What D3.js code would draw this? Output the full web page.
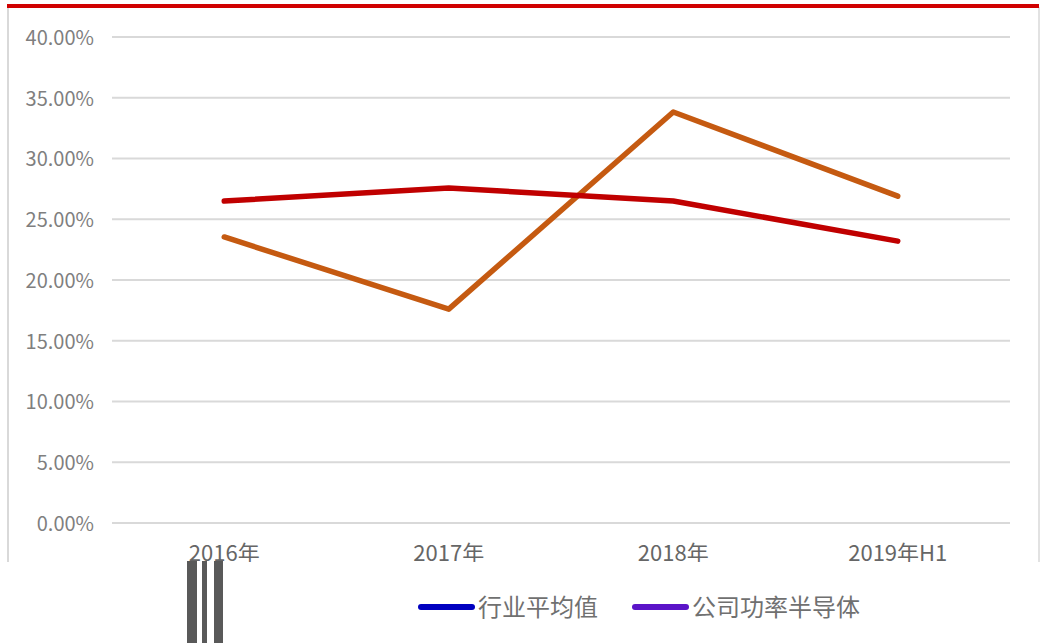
<!DOCTYPE html>
<html>
<head>
	<meta charset="utf-8">
	<script src="https://d3js.org/d3.v7.min.js"></script>
	<style>
		body { margin: 0; background: #fff; }
		text { font-family: "Noto Sans CJK SC", "Noto Sans", sans-serif; }
	</style>
</head>
<body>
<div id="chart"></div>
<script>
// 数据
var categories = ['2016年', '2017年', '2018年', '2019年H1'];
var industryAvg = [0.265, 0.2757, 0.265, 0.232];
var company = [0.2354, 0.176, 0.3383, 0.269];
var yTicks = [0, 0.05, 0.10, 0.15, 0.20, 0.25, 0.30, 0.35, 0.40];
var seriesNames = ['行业平均值', '公司功率半导体'];

var W = 1051, H = 643;
var svg = d3.select('#chart').append('svg')
	.attr('width', W).attr('height', H);

var x = d3.scaleBand().domain(categories).range([112, 1010]);
var y = d3.scaleLinear().domain([0, 0.40]).range([523, 37]);

// 上方区域裁剪（x轴标签被截断）
svg.append('clipPath').attr('id', 'panel')
	.append('rect').attr('x', 0).attr('y', 0).attr('width', W).attr('height', 562);

var panel = svg.append('g').attr('clip-path', 'url(#panel)');

// 边框
panel.append('line').attr('x1', 8).attr('x2', 8).attr('y1', 7).attr('y2', 563)
	.attr('stroke', '#d9d9d9').attr('stroke-width', 2);
panel.append('line').attr('x1', 1039).attr('x2', 1039).attr('y1', 7).attr('y2', 563)
	.attr('stroke', '#d9d9d9').attr('stroke-width', 1.5);
panel.append('rect').attr('x', 7).attr('y', 4).attr('width', 1032).attr('height', 4)
	.attr('fill', '#d00000');

// 网格线
panel.append('g').selectAll('line').data(yTicks).join('line')
	.attr('x1', 112).attr('x2', 1010)
	.attr('y1', function(d) { return y(d); }).attr('y2', function(d) { return y(d); })
	.attr('stroke', '#d9d9d9').attr('stroke-width', 2);

// y轴标签
var yAxis = d3.axisLeft(y).tickValues(yTicks).tickSize(0).tickPadding(0)
	.tickFormat(function(d) { return (d * 100).toFixed(2) + '%'; });
var ga = panel.append('g').attr('transform', 'translate(94,1)').call(yAxis);
ga.select('.domain').remove();
ga.selectAll('text').attr('fill', '#7f7f7f').style('font-size', '20px')
	.attr('font-family', '"Noto Sans CJK SC", sans-serif');

// x轴标签
var xAxis = d3.axisBottom(x).tickSize(0).tickPadding(0);
var gx = panel.append('g').attr('transform', 'translate(0,545)').call(xAxis);
gx.select('.domain').remove();
gx.selectAll('text').attr('fill', '#666666').style('font-size', '22px')
	.attr('font-family', '"Noto Sans CJK SC", sans-serif').attr('dy', '0.71em');

// 折线
var line = d3.line()
	.x(function(d, i) { return x(categories[i]) + x.bandwidth() / 2; })
	.y(function(d) { return y(d); });

panel.append('path').datum(company).attr('d', line)
	.attr('fill', 'none').attr('stroke', '#c55a11').attr('stroke-width', 5.5)
	.attr('stroke-linecap', 'round').attr('stroke-linejoin', 'round');
panel.append('path').datum(industryAvg).attr('d', line)
	.attr('fill', 'none').attr('stroke', '#c00000').attr('stroke-width', 5.5)
	.attr('stroke-linecap', 'round').attr('stroke-linejoin', 'round');

// 下方灰色竖条
var bars = [[187, 10], [202, 5], [214, 9]];
svg.append('g').selectAll('rect').data(bars).join('rect')
	.attr('x', function(d) { return d[0]; }).attr('y', 561)
	.attr('width', function(d) { return d[1]; }).attr('height', H - 561)
	.attr('fill', '#595959');

// 图例
var legendColors = ['#0000c0', '#5b14c8'];
var legendX = [421, 635];
var lg = svg.append('g').selectAll('g').data(seriesNames).join('g')
	.attr('transform', function(d, i) { return 'translate(' + legendX[i] + ',607)'; });
lg.append('line').attr('x1', 0).attr('x2', 51).attr('y1', 0).attr('y2', 0)
	.attr('stroke', function(d, i) { return legendColors[i]; })
	.attr('stroke-width', 6).attr('stroke-linecap', 'round');
lg.append('text').attr('x', 57).attr('y', 0).attr('dy', '0.36em')
	.attr('fill', '#707070').style('font-size', '24px')
	.text(function(d) { return d; });
</script>
</body>
</html>
